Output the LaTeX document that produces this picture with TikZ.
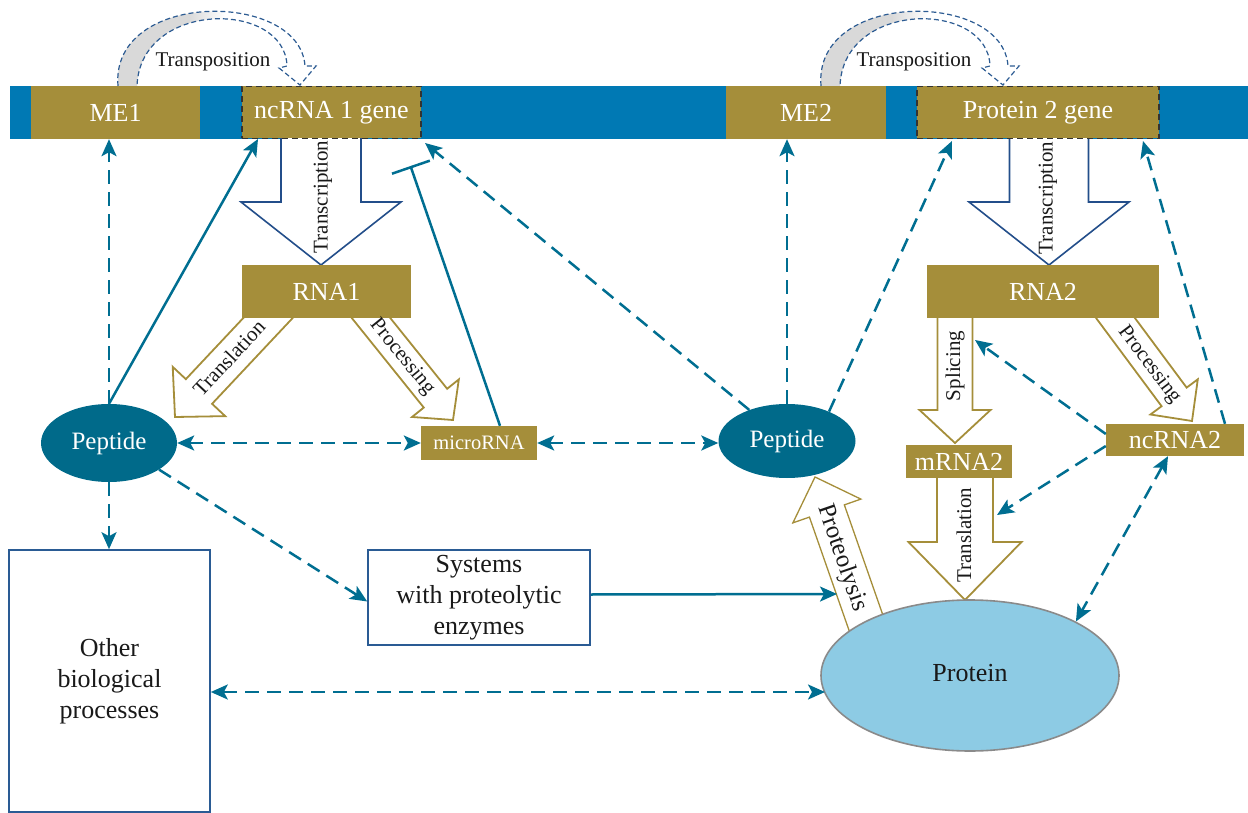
\documentclass[tikz,border=0pt]{standalone}
\usepackage{fontspec}
\setmainfont{Liberation Serif}
\usetikzlibrary{arrows.meta,calc,shapes.geometric}
\definecolor{gold}{RGB}{165,142,58}
\definecolor{barblue}{RGB}{0,121,180}
\definecolor{teal}{RGB}{0,110,145}
\definecolor{pepfill}{RGB}{0,106,138}
\definecolor{protfill}{RGB}{141,203,228}
\definecolor{protline}{RGB}{138,138,138}
\definecolor{boxline}{RGB}{42,91,148}
\definecolor{tarrline}{RGB}{35,78,138}
\definecolor{tposdash}{RGB}{45,92,147}
\newcommand\fsz[2]{\fontsize{#1}{#2}\selectfont}
\pgfdeclarehorizontalshading{transpsh}{100bp}{color(0bp)=(gray!30); color(44bp)=(gray!30); color(53bp)=(white); color(100bp)=(white)}
% block arrow: style, start, tip, shaft half width, head half width, head length
\newcommand\blockarr[6]{%
  \path ($#3!#6!#2$) coordinate (ba-h);
  \draw[#1] ($#2!#4!90:#3$) -- ($(ba-h)!#4!-90:#2$) -- ($(ba-h)!#5!-90:#2$) -- #3
     -- ($(ba-h)!#5!90:#2$) -- ($(ba-h)!#4!90:#2$) -- ($#2!#4!-90:#3$) -- cycle;
}
\tikzset{
  gbox/.style={rectangle, fill=gold, text=white, inner sep=0pt, font=\fsz{26}{31}},
  genebox/.style={gbox, draw=black!80, dash pattern=on 6pt off 4pt, line width=1.3pt},
  wbox/.style={rectangle, draw=boxline, line width=1.6pt, fill=white, inner sep=0pt, align=center, font=\fsz{26}{31}, text=black!90},
  pep/.style={ellipse, fill=pepfill, text=white, inner sep=0pt, font=\fsz{25}{30}},
  tarr/.style={draw=tarrline, fill=white, line width=1.6pt, line join=miter},
  garr/.style={draw=gold, fill=white, line width=1.8pt, line join=miter},
  parr/.style={draw=gold, fill=white, line width=1.3pt, line join=miter},
  albl/.style={font=\fsz{21}{25}, text=black!90, inner sep=0pt},
  conn/.style={draw=teal, line width=2.5pt},
  dsh/.style={dash pattern=on 14pt off 8pt},
  tip/.tip={Stealth[length=17pt,width=15pt,inset=4pt]},
  tposs/.style={shading=transpsh, draw=tposdash, dash pattern=on 5pt off 3pt, line width=1.2pt, line join=miter}
}
\begin{document}
\begin{tikzpicture}[x=1pt,y=-1pt]
\useasboundingbox (0,0) rectangle (1248,813);
% chromosome bar
\node (bar) [rectangle, fill=barblue, minimum width=1238pt, minimum height=53pt, inner sep=0pt] at (629,112.5) {};
% block arrows
\blockarr{tarr}{(321,130)}{(321,265)}{40pt}{80pt}{63pt}
\blockarr{tarr}{(1049,130)}{(1049,265)}{39.5pt}{80pt}{63pt}
\blockarr{garr}{(281.7,303.4)}{(175,417)}{18pt}{36pt}{35pt}
\blockarr{garr}{(358.5,302.4)}{(453,420)}{15pt}{30pt}{28pt}
\blockarr{garr}{(955,310)}{(955,443)}{17.5pt}{35.5pt}{33pt}
\blockarr{garr}{(1103.6,302)}{(1192,421)}{15.6pt}{29.5pt}{30pt}
\blockarr{garr}{(965,470)}{(965,600)}{28pt}{56.5pt}{58pt}
\blockarr{parr}{(872,640)}{(815,477)}{18.5pt}{36pt}{36pt}
% gene boxes
\node (me1) [gbox, minimum width=169pt, minimum height=53pt] at (115.5,112.5) {ME1};
\node (nc1) [genebox, minimum width=179pt, minimum height=52pt] at (331.5,112.5) {ncRNA 1 gene};
\node (me2) [gbox, minimum width=160pt, minimum height=53pt] at (806,112.5) {ME2};
\node (p2g) [genebox, minimum width=242pt, minimum height=52pt] at (1038,112.5) {Protein 2 gene};
% transposition arrows
\path[tposs] (118,86) .. controls (110,-10) and (300,-10) .. (305,66) -- (316,66) -- (300,85) -- (279,68) -- (287,66) .. controls (285,0) and (140,0) .. (137,86);
\path[tposs] (821,86) .. controls (813,-10) and (1003,-10) .. (1008,66) -- (1019,66) -- (1003,85) -- (982,68) -- (990,66) .. controls (988,0) and (843,0) .. (840,86);
\node (tp1) [albl] at (213,62) {Transposition};
\node (tp2) [albl] at (914,62) {Transposition};
% RNA boxes
\node (rna1) [gbox, minimum width=169pt, minimum height=53pt] at (326.5,291.5) {RNA1};
\node (rna2) [gbox, minimum width=232pt, minimum height=53pt] at (1043,291.5) {RNA2};
\node (mrna2) [gbox, minimum width=106pt, minimum height=33pt] at (959,461.5) {mRNA2};
\node (nc2) [gbox, minimum width=138pt, minimum height=32pt] at (1175,440) {ncRNA2};
\node (mir) [gbox, minimum width=116pt, minimum height=34pt, font=\fsz{20.5}{24}] at (479,443) {microRNA};
% peptides, protein, boxes
\node (pepL) [pep, minimum width=136pt, minimum height=78pt] at (109,443) {Peptide};
\node (pepR) [pep, minimum width=137pt, minimum height=74pt] at (787,441) {Peptide};
\node (prot) [ellipse, fill=protfill, draw=protline, line width=1.6pt, minimum width=298pt, minimum height=151pt, inner sep=0pt, font=\fsz{26}{31}, text=black!90] at (970,675.5) {\raisebox{5pt}{Protein}};
\node (sys) [wbox, minimum width=222pt, minimum height=95pt] at (479,597.5) {Systems\\with proteolytic\\enzymes};
\node (oth) [wbox, minimum width=201pt, minimum height=262pt] at (109.5,681) {Other\\biological\\processes};
% arrow labels
\node (lt1) [albl, rotate=90] at (323,197) {Transcription};
\node (lt2) [albl, rotate=90] at (1048,198) {Transcription};
\node (ltr1) [albl, rotate=47] at (229,358) {Translation};
\node (lpr1) [albl, rotate=-51] at (402,357) {Processing};
\node (lspl) [albl, rotate=90] at (955,366) {Splicing};
\node (lpr2) [albl, rotate=-53] at (1149,365) {Processing};
\node (ltr2) [albl, rotate=90] at (964,535) {Translation};
\node (lprot) [albl, rotate=-71, font=\fsz{25}{30}] at (842,558) {Proteolysis};
% connector end points
\coordinate (tA) at (258,139);
\coordinate (inhb) at (410.5,166);
\coordinate (tB) at (425,143);
\coordinate (tC) at (952,141);
\coordinate (tD) at (1143,141);
\coordinate (tE) at (975,340);
\coordinate (tF) at (997,515);
\coordinate (tG) at (837,594);
\coordinate (tH) at (825,692);
% connectors
\begin{scope}[conn]
\draw[dsh,-tip] (pepL.north) -- (pepL.north |- me1.south);
\draw[-tip] (pepL.north) -- (tA);
\draw[-{Bar[width=40pt]}] ([xshift=21pt]mir.north) -- (inhb);
\draw[dsh,-tip] (pepR) -- (tB);
\draw[dsh,tip-tip] (pepL.east) -- (pepL.east -| mir.west);
\draw[dsh,tip-tip] (mir.east) -- (mir.east -| pepR.west);
\draw[dsh,-tip] (pepR.north) -- (pepR.north |- me2.south);
\draw[dsh,-tip] (pepR.35) -- (tC);
\draw[dsh,-tip] ([xshift=50pt]nc2.north) -- (tD);
\draw[dsh,-tip] ([yshift=6pt]nc2.west) -- (tE);
\draw[dsh,-tip] ([yshift=-6pt]nc2.west) -- (tF);
\draw[dsh,tip-tip] ([xshift=-7pt]nc2.south) -- (prot.north east);
\draw[dsh,-tip] (pepL.south) -- (pepL.south |- oth.north);
\draw[dsh,-tip] (pepL.-28) -- ([yshift=-4pt]sys.west);
\draw[-tip] ([yshift=3pt]sys.east) -- (tG);
\draw[dsh,tip-tip] (oth.east |- tH) -- (tH);
\end{scope}
\end{tikzpicture}
\end{document}
